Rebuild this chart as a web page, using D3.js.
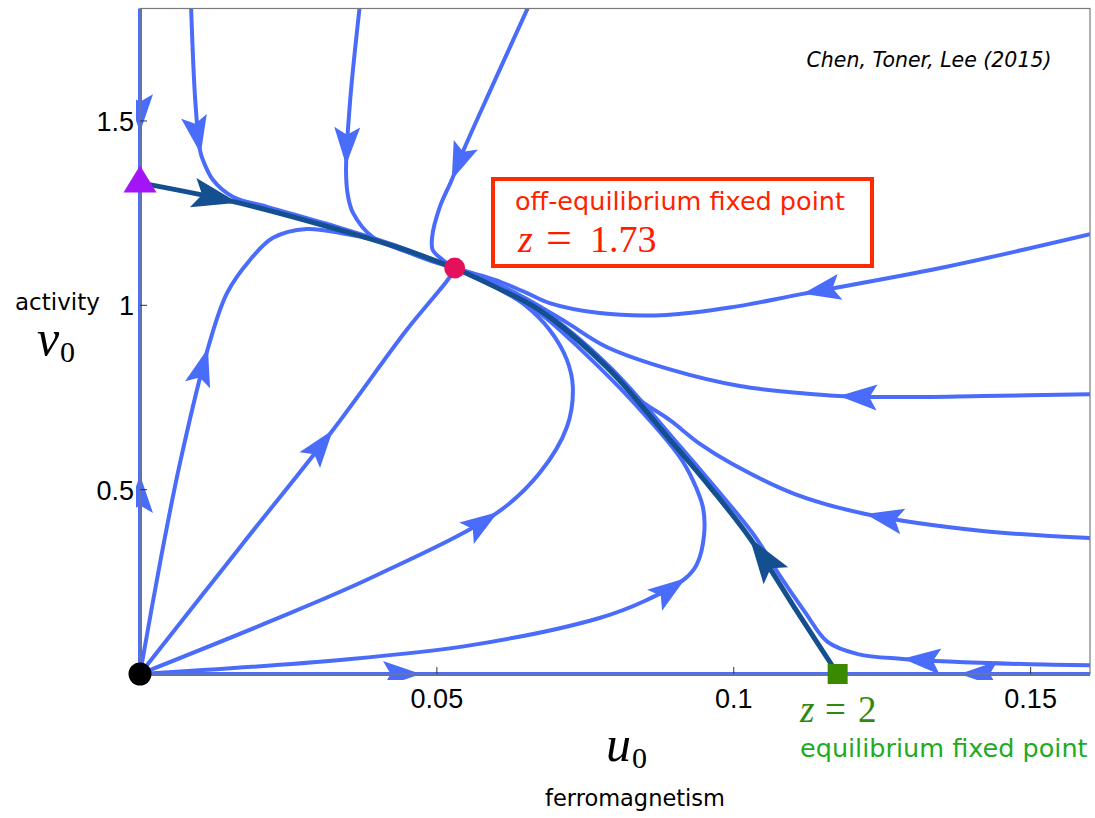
<!DOCTYPE html>
<html>
<head>
<meta charset="utf-8">
<script src="https://cdn.jsdelivr.net/npm/d3@7"></script>
<style>
body{margin:0;background:#fff;}
svg{display:block;}
</style>
</head>
<body>
<svg id="main" width="1095" height="818"></svg>
<script>
// 坐标轴刻度
var xTicks=[0.05,0.1,0.15];
var xTickLabels=["0.05","0.1","0.15"];
var yTicks=[0.5,1,1.5];
var yTickLabels=["0.5","1","1.5"];

// 不动点
var originPoint=[0,0];
var offEqPoint=[0.053,1.101];
var eqPoint=[0.1175,0];
var axisPoint=[0,1.333];

// 流线 (沿流动方向排列) 与箭头位置
var axisDown=[[0,1.81],[0,1.333]];
var axisDownArrow=[[0,1.47]];
var axisUp=[[0,0],[0,1.333]];
var axisUpArrow=[[0,0.54]];
var axisRight=[[0,0],[0.1175,0]];
var axisRightArrow=[[0.0473,0]];
var axisLeft=[[0.16,0],[0.1175,0]];
var axisLeftArrow=[[0.138,0]];

var top1=[[0.0086,1.81],[0.0093,1.557],[0.0101,1.421],[0.0106,1.394],[0.0123,1.340],[0.0157,1.294],[0.0214,1.267],[0.0337,1.210],[0.0438,1.158],[0.053,1.101]];
var top1Arrow=[[0.0101,1.41]];
var top2=[[0.0370,1.81],[0.0354,1.557],[0.0347,1.367],[0.0350,1.299],[0.0359,1.250],[0.0392,1.185],[0.0426,1.162],[0.048,1.126],[0.053,1.101]];
var top2Arrow=[[0.0348,1.38]];
var top3=[[0.0653,1.806],[0.0594,1.597],[0.0545,1.421],[0.0525,1.340],[0.0505,1.267],[0.0492,1.185],[0.0493,1.150],[0.0510,1.123],[0.053,1.101]];
var top3Arrow=[[0.0525,1.34]];

var low1=[[0,0],[0.00337,0.301],[0.00673,0.572],[0.01145,0.884],[0.01465,1.033],[0.01852,1.123],[0.0224,1.183],[0.0281,1.207],[0.0337,1.196],[0.0392,1.178],[0.0449,1.145],[0.053,1.101]];
var low1Arrow=[[0.01145,0.884]];
var low2=[[0,0],[0.01684,0.344],[0.0325,0.662],[0.0449,0.933],[0.0522,1.077],[0.053,1.101]];
var low2Arrow=[[0.0325,0.662]];
var low3=[[0,0],[0.0224,0.146],[0.0392,0.263],[0.0603,0.439],[0.0673,0.545],[0.0719,0.670],[0.0729,0.778],[0.0719,0.852],[0.069,0.933],[0.0648,1.001],[0.0598,1.050],[0.053,1.101]];
var low3Arrow=[[0.0603,0.439]];
var low4=[[0,0],[0.0337,0.038],[0.0561,0.079],[0.0774,0.152],[0.085,0.198],[0.0919,0.260],[0.0938,0.298],[0.095,0.377],[0.0948,0.453],[0.0931,0.526],[0.0909,0.589],[0.0835,0.730],[0.0747,0.873],[0.0673,0.979],[0.0598,1.050],[0.053,1.101]];
var low4Arrow=[[0.0919,0.26]];

var right1=[[0.16,1.193],[0.1348,1.101],[0.1116,1.031],[0.0998,0.995],[0.0887,0.974],[0.0774,0.979],[0.069,1.006],[0.0652,1.033],[0.0598,1.069],[0.053,1.101]];
var right1Arrow=[[0.1116,1.031]];
var right2=[[0.16,0.759],[0.1419,0.754],[0.1279,0.751],[0.1177,0.754],[0.1111,0.762],[0.101,0.781],[0.0897,0.824],[0.0786,0.887],[0.0717,0.955],[0.0646,1.022],[0.0589,1.066],[0.053,1.101]];
var right2Arrow=[[0.1177,0.754]];
var right3=[[0.16,0.369],[0.1419,0.388],[0.1222,0.434],[0.1103,0.488],[0.0997,0.570],[0.0943,0.624],[0.0892,0.689],[0.0842,0.743],[0.0801,0.808],[0.0729,0.914],[0.0646,1.014],[0.053,1.101]];
var right3Arrow=[[0.1222,0.434]];
var right4=[[0.16,0.024],[0.1488,0.027],[0.1285,0.041],[0.1209,0.054],[0.1158,0.087],[0.112,0.168],[0.1077,0.268],[0.1034,0.377],[0.0965,0.513],[0.0902,0.632],[0.079,0.835],[0.0677,0.987],[0.0603,1.050],[0.053,1.101]];
var right4Arrow=[[0.1285,0.046]];

// 分界线 (深色)
var sepLeft=[[0,1.332],[0.01684,1.277],[0.0337,1.204],[0.0438,1.155],[0.053,1.101]];
var sepLeftArrow=[[0.0165,1.277]];
var sepRight=[[0.1175,0],[0.1104,0.176],[0.1027,0.369],[0.096,0.507],[0.0897,0.627],[0.0786,0.833],[0.0673,0.987],[0.0598,1.050],[0.053,1.101]];
var sepRightArrow=[[0.103,0.372]];

var LIGHT="#4a6cfa", DARK="#14508f";

var svg=d3.select("#main");
var x=d3.scaleLinear().domain([0,0.16]).range([140,1090]);
var y=d3.scaleLinear().domain([0,1.805]).range([674,8.5]);

svg.append("defs").append("clipPath").attr("id","plotClip")
    .append("rect").attr("x",136).attr("y",8.5).attr("width",1090-136).attr("height",680-8.5);

var plot=svg.append("g").attr("clip-path","url(#plotClip)");
var line=d3.line().x(function(d){return x(d[0])}).y(function(d){return y(d[1])}).curve(d3.curveCatmullRom.alpha(0.5));

function arrowHead(len,w){
    return "M0,0L"+(-len)+","+(-w)+"L"+(-0.8*len)+",0L"+(-len)+","+w+"Z";
}

// 在路径上找最接近箭头位置的点, 按切线方向放置箭头
function drawFlow(pts,arrows,color,width,aLen,aW){
    var path=plot.append("path").datum(pts)
        .attr("d",line).attr("fill","none")
        .attr("stroke",color).attr("stroke-width",width)
        .attr("stroke-linecap","butt").attr("stroke-linejoin","round");
    var node=path.node(), total=node.getTotalLength();
    arrows.forEach(function(a){
        var tx=x(a[0]), ty=y(a[1]), best=0, bd=1e12;
        for(var l=0;l<=total;l+=0.5){
            var p=node.getPointAtLength(l);
            var d=(p.x-tx)*(p.x-tx)+(p.y-ty)*(p.y-ty);
            if(d<bd){bd=d;best=l;}
        }
        var p1=node.getPointAtLength(Math.max(0,best-10)), p2=node.getPointAtLength(best);
        var ang=Math.atan2(p2.y-p1.y,p2.x-p1.x)*180/Math.PI;
        plot.append("path").attr("d",arrowHead(aLen,aW)).attr("fill",color)
            .attr("transform","translate("+p2.x+","+p2.y+") rotate("+ang+")");
    });
}

var lightFlows=[
    [axisDown,axisDownArrow],[axisUp,axisUpArrow],[axisRight,axisRightArrow],[axisLeft,axisLeftArrow],
    [top1,top1Arrow],[top2,top2Arrow],[top3,top3Arrow],
    [low1,low1Arrow],[low2,low2Arrow],[low3,low3Arrow],[low4,low4Arrow],
    [right1,right1Arrow],[right2,right2Arrow],[right3,right3Arrow],[right4,right4Arrow]
];
lightFlows.forEach(function(f){drawFlow(f[0],f[1],LIGHT,4,38,13);});
drawFlow(sepLeft,sepLeftArrow,DARK,5,46,15);
drawFlow(sepRight,sepRightArrow,DARK,5,46,15);

// 边框与刻度
svg.append("rect").attr("x",x(0)).attr("y",y(1.805)).attr("width",x(0.16)-x(0)).attr("height",y(0)-y(1.805))
    .attr("fill","none").attr("stroke","#7a7a7a").attr("stroke-width",1.2);

svg.selectAll(".xtick").data(xTicks).enter().append("line")
    .attr("x1",function(d){return x(d)}).attr("x2",function(d){return x(d)})
    .attr("y1",y(0)).attr("y2",y(0)-7).attr("stroke","#333").attr("stroke-width",1);
svg.selectAll(".ytick").data(yTicks).enter().append("line")
    .attr("x1",x(0)).attr("x2",x(0)+7)
    .attr("y1",function(d){return y(d)}).attr("y2",function(d){return y(d)}).attr("stroke","#333").attr("stroke-width",1);

svg.selectAll(".xlab").data(xTicks).enter().append("text")
    .attr("x",function(d){return x(d)}).attr("y",y(0)+34)
    .attr("text-anchor","middle").attr("font-family","Liberation Sans, Arial, sans-serif").attr("font-size",27)
    .text(function(d,i){return xTickLabels[i]});
svg.selectAll(".ylab").data(yTicks).enter().append("text")
    .attr("x",x(0)-6).attr("y",function(d){return y(d)+10})
    .attr("text-anchor","end").attr("font-family","Liberation Sans, Arial, sans-serif").attr("font-size",27)
    .text(function(d,i){return yTickLabels[i]});

// 不动点标记
svg.append("circle").attr("cx",x(originPoint[0])).attr("cy",y(originPoint[1])).attr("r",11.5).attr("fill","#000");
svg.append("circle").attr("cx",x(offEqPoint[0])).attr("cy",y(offEqPoint[1])).attr("r",10.5).attr("fill","#e5105a");
svg.append("path").attr("d","M0,-17L16.5,10L-16.5,10Z").attr("fill","#a315f7")
    .attr("transform","translate("+x(axisPoint[0])+","+y(axisPoint[1])+")");
svg.append("rect").attr("x",x(eqPoint[0])-10).attr("y",y(eqPoint[1])-10).attr("width",20).attr("height",20).attr("fill","#3a8a00");

// 文字
var SANS="DejaVu Sans, Verdana, sans-serif", SERIF="Liberation Serif, Times New Roman, serif";
svg.append("text").attr("x",929).attr("y",67).attr("text-anchor","middle")
    .attr("font-family",SANS).attr("font-style","italic").attr("font-size",20.5).text("Chen, Toner, Lee (2015)");

svg.append("rect").attr("x",493).attr("y",179).attr("width",379).attr("height",87)
    .attr("fill","#fff").attr("stroke","#ff2a00").attr("stroke-width",4);
svg.append("text").attr("x",515).attr("y",210).attr("font-family",SANS).attr("font-size",25.5)
    .attr("fill","#ff2200").text("off-equilibrium fixed point");
var zr=svg.append("text").attr("y",252).attr("font-family",SERIF).attr("font-size",38).attr("fill","#ff1a00");
zr.append("tspan").attr("x",518).attr("font-style","italic").text("z");
zr.append("tspan").attr("x",546).attr("font-size",46).attr("dy",1).text("=");
zr.append("tspan").attr("x",590).attr("dy",-1).text("1.73");

var zg=svg.append("text").attr("y",722).attr("font-family",SERIF).attr("font-size",37).attr("fill","#2c8a10");
zg.append("tspan").attr("x",800).attr("font-style","italic").text("z");
zg.append("tspan").attr("x",825).text("=");
zg.append("tspan").attr("x",858).text("2");
svg.append("text").attr("x",800).attr("y",757).attr("font-family",SANS).attr("font-size",25.5)
    .attr("fill","#1faa1f").text("equilibrium fixed point");

// 轴标题
var u=svg.append("text").attr("font-family",SERIF).attr("fill","#000");
u.append("tspan").attr("x",606).attr("y",761).attr("font-style","italic").attr("font-size",50).text("u");
u.append("tspan").attr("x",632).attr("y",768).attr("font-size",30).text("0");
svg.append("text").attr("x",635).attr("y",806).attr("text-anchor","middle")
    .attr("font-family",SANS).attr("font-size",22.5).text("ferromagnetism");

svg.append("text").attr("x",15).attr("y",310).attr("font-family",SANS).attr("font-size",23).text("activity");
var v=svg.append("text").attr("font-family",SERIF).attr("fill","#000");
v.append("tspan").attr("x",37).attr("y",355).attr("font-style","italic").attr("font-size",50).text("v");
v.append("tspan").attr("x",60).attr("y",362).attr("font-size",30).text("0");
</script>
</body>
</html>
